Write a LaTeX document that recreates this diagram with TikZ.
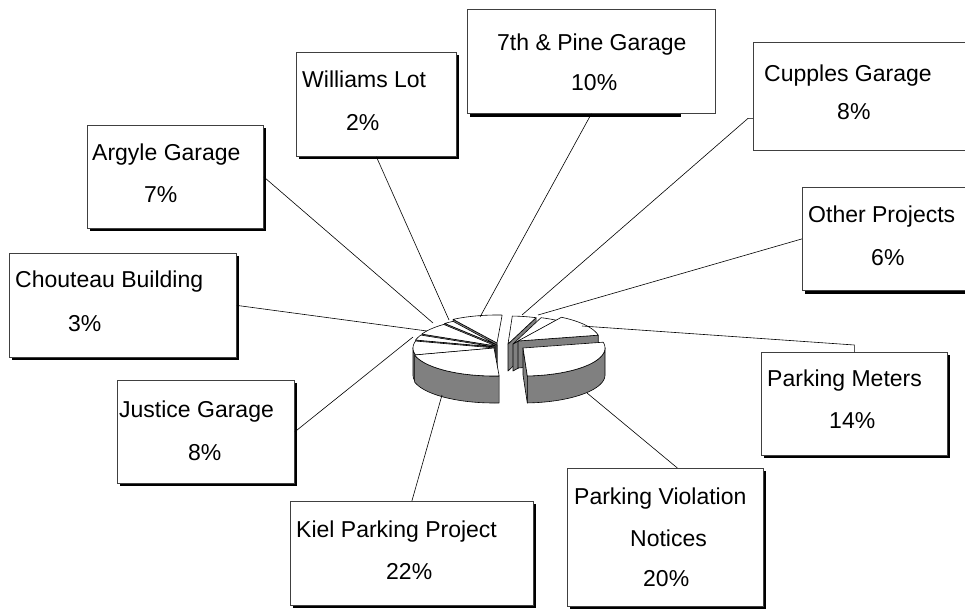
\documentclass[tikz,border=0pt]{standalone}
\usepackage{fontspec}
\setmainfont{Liberation Sans}
\usetikzlibrary{shadows,calc}

\def\pieRX{82}
\def\pieRY{28}
\def\pieD{27}

\tikzset{
  lbox/.style={draw=black!75, line width=0.75pt, fill=white, inner sep=0pt, anchor=north west},
  shbox/.style={lbox, drop shadow={shadow xshift=3pt, shadow yshift=-3pt, fill=black, opacity=1}},
  lbl/.style={anchor=base west, inner sep=0pt, font=\fontsize{23}{27}\selectfont},
  lead/.style={draw=black, line width=0.6pt},
  pietop/.style={fill=white, draw=black, line width=0.6pt, line join=round},
  pieside/.style={fill=black!50, draw=black, line width=0.6pt, line join=round},
}

\newcommand\pieTop[4]{%
  \filldraw[pietop] (#1,#2) -- plot[domain=#3:#4,samples=30] ({#1+\pieRX*cos(\x)},{#2-\pieRY*sin(\x)}) -- cycle;}
\newcommand\pieFront[4]{%
  \filldraw[pieside] plot[domain=#3:#4,samples=30] ({#1+\pieRX*cos(\x)},{#2-\pieRY*sin(\x)})
     -- plot[domain=#4:#3,samples=30] ({#1+\pieRX*cos(\x)},{#2+\pieD-\pieRY*sin(\x)}) -- cycle;}
\newcommand\pieRad[3]{%
  \pgfmathsetmacro\pqx{#1+\pieRX*cos(#3)}%
  \pgfmathsetmacro\pqy{#2-\pieRY*sin(#3)}%
  \filldraw[pieside] (#1,#2) -- (\pqx,\pqy) -- (\pqx,\pqy+\pieD) -- (#1,#2+\pieD) -- cycle;}

\begin{document}
\begin{tikzpicture}[x=1pt, y=-1pt]
\useasboundingbox (0,0) rectangle (965,610);
\fill[white] (0,0) rectangle (965,610);

% ---------- boxes ----------
\fill[black] (470,113) rectangle (681,117);
\node[lbox, minimum width=248pt, minimum height=104pt] (sv) at (467,9) {};
\node[lbox, minimum width=220pt, minimum height=108pt] (cu) at (753,42) {};
\fill[black] (805,290) rectangle (972,294);
\node[lbox, minimum width=170pt, minimum height=103pt] (ot) at (802,187) {};
\node[shbox, minimum width=160pt, minimum height=104pt] (wl) at (296,52) {};
\node[shbox, minimum width=176pt, minimum height=103pt] (ag) at (87,125) {};
\node[shbox, minimum width=227pt, minimum height=104pt] (ch) at (9,253) {};
\node[shbox, minimum width=177pt, minimum height=103pt] (ju) at (117,380) {};
\node[shbox, minimum width=243pt, minimum height=104pt] (ki) at (290,501) {};
\node[shbox, minimum width=196pt, minimum height=138pt] (pv) at (567,468) {};
\node[shbox, minimum width=186pt, minimum height=103pt] (pm) at (761,352) {};

% ---------- texts ----------
\node[lbl] (t-sv1) at (497,51) {7th \& Pine Garage};
\node[lbl] (t-sv2) at (571,90) {10\%};
\node[lbl] (t-cu1) at (764,81) {Cupples Garage};
\node[lbl] (t-cu2) at (837,119) {8\%};
\node[lbl] (t-ot1) at (808,222) {Other Projects};
\node[lbl] (t-ot2) at (871,265) {6\%};
\node[lbl] (t-wl1) at (302,87) {Williams Lot};
\node[lbl] (t-wl2) at (346,130) {2\%};
\node[lbl] (t-ag1) at (92,160) {Argyle Garage};
\node[lbl] (t-ag2) at (144,202) {7\%};
\node[lbl] (t-ch1) at (15,287) {Chouteau Building};
\node[lbl] (t-ch2) at (68,331) {3\%};
\node[lbl] (t-ju1) at (119,417) {Justice Garage};
\node[lbl] (t-ju2) at (188,460) {8\%};
\node[lbl] (t-ki1) at (296,537) {Kiel Parking Project};
\node[lbl] (t-ki2) at (386,579) {22\%};
\node[lbl] (t-pv1) at (574,504) {Parking Violation};
\node[lbl] (t-pv2) at (630,546) {Notices};
\node[lbl] (t-pv3) at (643,586) {20\%};
\node[lbl] (t-pm1) at (767,386) {Parking Meters};
\node[lbl] (t-pm2) at (829,428) {14\%};

% ---------- pie (back to front) ----------
% 7th & Pine
\pieRad{497}{343}{122.4}
\pieTop{497}{343}{86.4}{122.4}
% Cupples
\pieRad{508}{344}{70}
\pieTop{508}{344}{70}{87}
% Williams
\pieRad{497}{345}{129.6}
\pieTop{497}{345}{122.4}{129.6}
% Other
\pieRad{513}{344}{58}
\pieTop{513}{344}{58}{70}
% Argyle
\pieRad{496}{346}{154.8}
\pieTop{496}{346}{129.6}{154.8}
% Chouteau
\pieRad{495}{347}{165.6}
\pieTop{495}{347}{154.8}{165.6}
% Parking Meters
\pieRad{518}{341}{12}
\pieTop{518}{341}{12}{58}
% Justice
\pieRad{495}{348}{194.4}
\pieFront{495}{348}{180}{194.4}
\pieTop{495}{348}{165.6}{194.4}
% Parking Violation
\pieRad{523}{348}{-87}
\pieFront{523}{348}{-87}{0}
\pieTop{523}{348}{-87}{12}
% Kiel
\pieFront{494}{348}{-165.6}{-86.4}
\pieTop{494}{348}{-165.6}{-86.4}

% ---------- leader ends ----------
\coordinate (p7) at (480,317);
\coordinate (pcu) at (522,315);
\coordinate (pot) at (538,315);
\coordinate (ppm) at (582,326);
\coordinate (ppv) at (587,393);
\coordinate (pki) at (442,395);
\coordinate (pju) at (413,337);
\coordinate (pch) at (427,331);
\coordinate (pag) at (433,323);
\coordinate (pwl) at (449,320);

% ---------- leaders ----------
\draw[lead] (sv.south) -- (p7);
\draw[lead] ([yshift=-22pt]cu.west) -- ++(-5,0) -- (pcu);
\draw[lead] (ot.west) -- (pot);
\draw[lead] (pm.north) -- ++(0,-7) -- (ppm);
\draw[lead] ([xshift=12pt]pv.north) -- (ppv);
\draw[lead] (ki.north) -- (pki);
\draw[lead] (ju.east) -- (pju);
\draw[lead] (ch.east) -- (pch);
\draw[lead] (ag.east) -- (pag);
\draw[lead] (wl.south) -- (pwl);
\end{tikzpicture}
\end{document}
